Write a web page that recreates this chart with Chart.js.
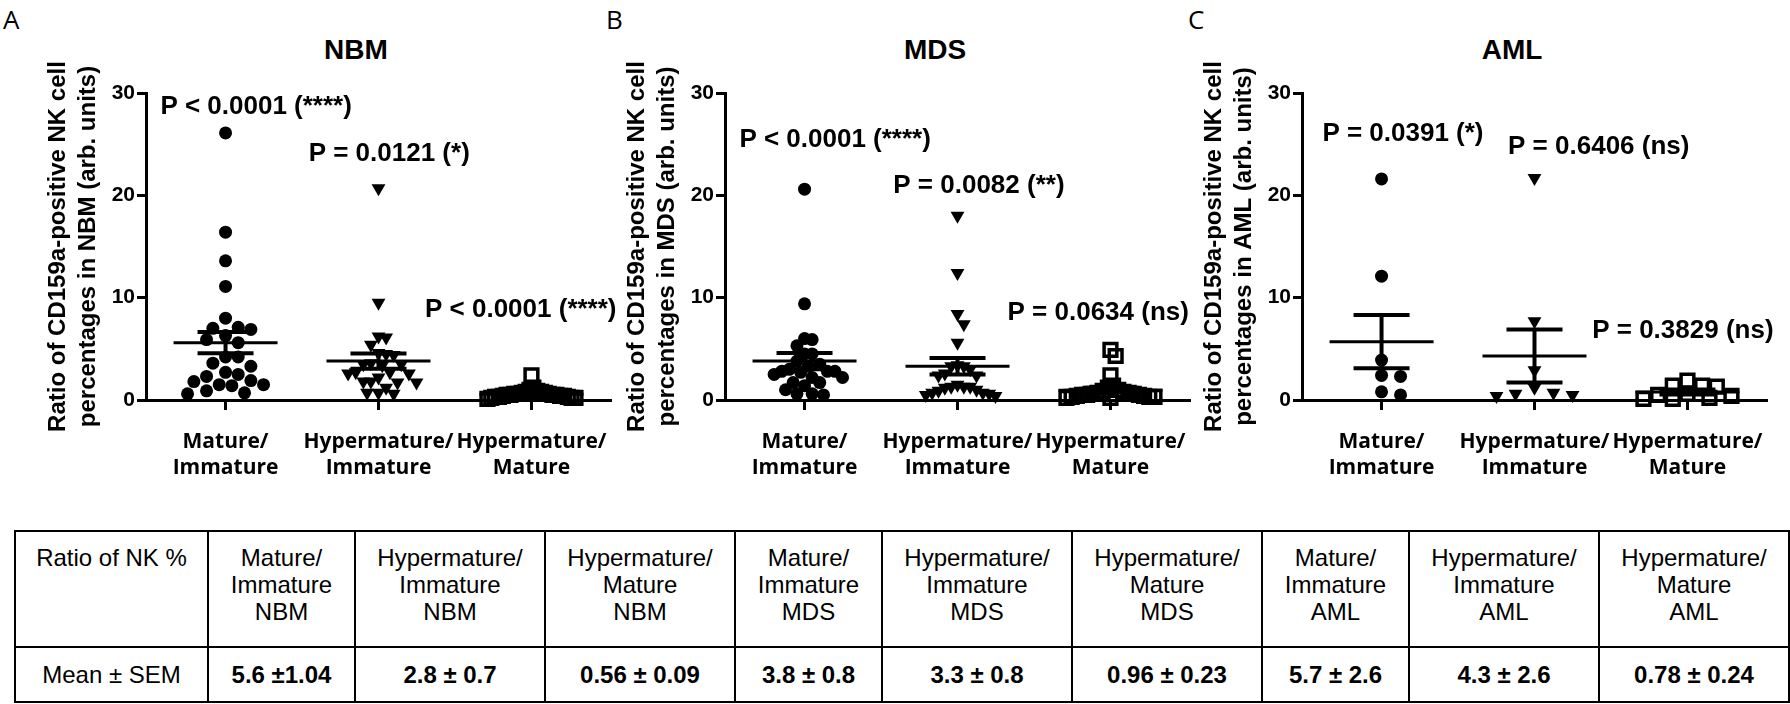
<!DOCTYPE html>
<html>
<head>
<meta charset="utf-8">
<title>CD159a-positive NK cell ratios</title>
<script src="https://cdn.jsdelivr.net/npm/chart.js@4.4.1/dist/chart.umd.min.js"></script>
<style>
  html, body { margin: 0; padding: 0; background: #fff; }
  body { position: relative; width: 1790px; height: 704px; overflow: hidden; }
  canvas { position: absolute; top: 0; }
  .letter { position: absolute; top: 0; font: 400 26px "Open Sans", "Liberation Sans", sans-serif; line-height: 38px; }
  .title { position: absolute; top: 32px; transform: translateX(-50%); font: 700 28px "Liberation Sans", Arial, sans-serif; line-height: 36px; }
  table { position: absolute; left: 14px; top: 530px; width: 1773px; border-collapse: collapse; table-layout: fixed;
          font-family: "Liberation Sans Narrow", "Arial Narrow", "Liberation Sans", sans-serif; font-size: 24px; line-height: 27px; }
  td { border: 2.5px solid #000; text-align: center; padding: 0; }
  tr.head { height: 116px; }
  tr.head td { vertical-align: top; padding-top: 12px; }
  tr.vals { height: 55px; }
  tr.vals td { vertical-align: middle; font-weight: bold; }
  tr.vals td:first-child { font-weight: normal; }
</style>
</head>
<body>
<div class="letter" style="left:3px">A</div>
<div class="letter" style="left:606px">B</div>
<div class="letter" style="left:1188px">C</div>
<div class="title" style="left:356px">NBM</div>
<div class="title" style="left:935px">MDS</div>
<div class="title" style="left:1512px">AML</div>
<canvas id="nbmChart" width="640" height="500" style="left:0px"></canvas>
<canvas id="mdsChart" width="640" height="500" style="left:579px"></canvas>
<canvas id="amlChart" width="640" height="500" style="left:1156px"></canvas>
<table id="summary"></table>
<script>
// categories and ticks
const categoryLabels = [["Mature/", "Immature"], ["Hypermature/", "Immature"], ["Hypermature/", "Mature"]];
const yTicks = [0, 10, 20, 30];

// NBM values
const nbmMatureImmature = [26.1, 16.4, 13.6, 11.1, 8.0, 7.1, 7.0, 6.9, 6.3, 5.9, 5.6, 4.2, 4.2, 3.6, 3.3, 2.7, 2.5, 2.3, 1.9, 1.8, 1.5, 1.5, 1.4, 0.9, 0.7, 0.6];
const nbmHyperImmature = [20.7, 9.5, 6.2, 6.1, 5.4, 4.6, 4.5, 4.4, 3.6, 3.5, 3.5, 3.4, 2.7, 2.7, 2.6, 2.6, 2.2, 1.8, 1.8, 1.7, 1.7, 1.2, 0.7, 0.7, 0.6];
const nbmHyperMature = [2.4, 1.2, 1.0, 0.9, 0.8, 0.8, 0.7, 0.7, 0.6, 0.6, 0.6, 0.5, 0.5, 0.5, 0.5, 0.4, 0.4, 0.4, 0.3, 0.3, 0.3, 0.2, 0.2, 0.2, 0.1];
const nbmMean = [5.6, 3.8, 0.56];
const nbmSem = [1.04, 0.75, 0.09];

// MDS
const mdsMatureImmature = [20.6, 9.4, 6.0, 5.9, 5.3, 4.5, 4.5, 3.8, 3.5, 3.3, 3.0, 2.8, 2.8, 2.8, 2.7, 2.5, 2.2, 2.2, 1.7, 1.7, 1.4, 1.0, 0.6, 0.6, 0.5];
const mdsHyperImmature = [18.0, 12.4, 8.4, 7.4, 5.6, 3.4, 3.3, 3.3, 3.0, 2.6, 2.4, 2.4, 1.5, 1.3, 1.3, 1.3, 1.2, 1.0, 0.9, 0.7, 0.7, 0.6, 0.5, 0.4];
const mdsHyperMature = [4.9, 4.3, 2.4, 1.4, 1.2, 1.0, 0.9, 0.8, 0.7, 0.7, 0.6, 0.6, 0.5, 0.5, 0.5, 0.4, 0.4, 0.3, 0.3, 0.3, 0.2, 0.2];
const mdsMean = [3.8, 3.3, 0.96];
const mdsSem = [0.8, 0.8, 0.23];

// AML
const amlMatureImmature = [21.6, 12.1, 3.9, 2.4, 2.3, 0.8, 0.5];
const amlHyperImmature = [21.7, 7.7, 2.9, 1.2, 0.7, 0.6, 0.5, 0.4];
const amlHyperMature = [1.9, 1.4, 1.4, 1.3, 0.6, 0.5, 0.4, 0.2, 0.1, 0.1];
const amlMean = [5.7, 4.3, 0.78];
const amlSem = [2.6, 2.6, 0.24];

// p-value annotations
const nbmP = ["P < 0.0001 (****)", "P = 0.0121 (*)", "P < 0.0001 (****)"];
const mdsP = ["P < 0.0001 (****)", "P = 0.0082 (**)", "P = 0.0634 (ns)"];
const amlP = ["P = 0.0391 (*)", "P = 0.6406 (ns)", "P = 0.3829 (ns)"];

// table text
const tableHeader = ["Ratio of NK %",
  "Mature/\nImmature\nNBM", "Hypermature/\nImmature\nNBM", "Hypermature/\nMature\nNBM",
  "Mature/\nImmature\nMDS", "Hypermature/\nImmature\nMDS", "Hypermature/\nMature\nMDS",
  "Mature/\nImmature\nAML", "Hypermature/\nImmature\nAML", "Hypermature/\nMature\nAML"];
const tableMeanSem = ["Mean \u00b1 SEM", "5.6 \u00b11.04", "2.8 \u00b1 0.7", "0.56 \u00b1 0.09", "3.8 \u00b1 0.8",
  "3.3 \u00b1 0.8", "0.96 \u00b1 0.23", "5.7 \u00b1 2.6", "4.3 \u00b1 2.6", "0.78 \u00b1 0.24"];

// layout bits (label anchors are [category offset, y value])
const nbmPAt = [[0.2, 28.6], [1.07, 24.1], [1.93, 8.8]];
const mdsPAt = [[0.2, 25.4], [1.14, 20.9], [1.92, 8.5]];
const amlPAt = [[0.14, 26.0], [1.42, 24.7], [1.97, 6.8]];
const colWidths = [193, 147, 190, 190, 147, 190, 190, 147, 190, 190];

const FONT = "'Liberation Sans', Arial, sans-serif";
const markers = [
  { pointStyle: "circle", pointRadius: 6.5, pointBackgroundColor: "#000", pointBorderWidth: 0, pointRotation: 0, gap: 14, step: 9.5, half: 38 },
  { pointStyle: "triangle", pointRadius: 8, pointBackgroundColor: "#000", pointBorderWidth: 0, pointRotation: 180, gap: 14, step: 9.5, half: 38 },
  // open squares are not filled, so overlapping ones merge into a dark band
  { pointStyle: "rect", pointRadius: 9, pointBackgroundColor: "rgba(0,0,0,0)", pointBorderWidth: 3.5, pointRotation: 0, gap: 13, step: 9, half: 44 },
];

const meanSemPlugin = {
  id: "meanSem",
  afterDatasetsDraw(chart, args, opts) {
    const { ctx, scales: { x, y } } = chart;
    const seg = (x1, y1, x2, y2) => { ctx.beginPath(); ctx.moveTo(x1, y1); ctx.lineTo(x2, y2); ctx.stroke(); };
    ctx.save();
    ctx.strokeStyle = "#000";
    opts.means.forEach((m, g) => {
      const cx = x.getPixelForValue(g);
      const s = opts.sems[g];
      const ym = y.getPixelForValue(m), yh = y.getPixelForValue(m + s), yl = y.getPixelForValue(m - s);
      ctx.lineWidth = 3;
      seg(cx - 52, ym, cx + 52, ym);
      ctx.lineWidth = 4;
      seg(cx, yh, cx, yl);
      seg(cx - 28, yh, cx + 28, yh);
      seg(cx - 28, yl, cx + 28, yl);
    });
    ctx.restore();
  },
};

const pLabelPlugin = {
  id: "pLabels",
  afterDraw(chart, args, opts) {
    const { ctx, scales: { x, y } } = chart;
    ctx.save();
    ctx.fillStyle = "#000";
    ctx.font = "bold 26px " + FONT;
    ctx.textAlign = "center";
    ctx.textBaseline = "middle";
    opts.texts.forEach((t, i) => {
      ctx.fillText(t, x.getPixelForValue(opts.at[i][0]), y.getPixelForValue(opts.at[i][1]));
    });
    ctx.restore();
  },
};

// spread the dots sideways like a scatter dot plot, then squeeze to the group width
function arrange(chart, groups) {
  const xs = chart.scales.x, ys = chart.scales.y;
  groups.forEach((vals, g) => {
    const m = markers[g];
    const cx = xs.getPixelForValue(g);
    const order = vals.map((v, i) => ({ i, py: ys.getPixelForValue(v) })).sort((a, b) => a.py - b.py);
    const placed = [];
    const off = new Array(vals.length).fill(0);
    order.forEach((p) => {
      for (let k = 0; k < 120; k++) {
        const dx = (k % 2 ? 1 : -1) * Math.ceil(k / 2) * m.step;
        if (placed.every((q) => Math.hypot(q.dx - dx, q.py - p.py) >= m.gap)) {
          placed.push({ dx, py: p.py });
          off[p.i] = dx;
          break;
        }
      }
    });
    const widest = Math.max(...off.map(Math.abs));
    const k = widest > m.half ? m.half / widest : 1;
    chart.data.datasets[g].data = vals.map((v, i) => ({ x: xs.getValueForPixel(cx + off[i] * k), y: v }));
  });
  chart.update("none");
}

function makePanel(id, name, groups, means, sems, pTexts, pAt) {
  const chart = new Chart(document.getElementById(id), {
    type: "scatter",
    data: {
      datasets: groups.map((vals, g) => ({
        data: vals.map((v) => ({ x: g, y: v })),
        pointStyle: markers[g].pointStyle,
        pointRadius: markers[g].pointRadius,
        pointHoverRadius: markers[g].pointRadius,
        pointBackgroundColor: markers[g].pointBackgroundColor,
        pointBorderColor: "#000",
        pointBorderWidth: markers[g].pointBorderWidth,
        pointRotation: markers[g].pointRotation,
        clip: false,
      })),
    },
    options: {
      responsive: false,
      animation: false,
      layout: { padding: { top: 93, right: 29, left: 0, bottom: 0 } },
      scales: {
        x: {
          type: "linear",
          min: -0.52,
          max: 2.52,
          afterBuildTicks: (s) => { s.ticks = [0, 1, 2].map((v) => ({ value: v })); },
          afterFit: (s) => { s.height = 100; },
          border: { color: "#000", width: 3 },
          grid: { drawOnChartArea: false, tickLength: 10, tickWidth: 3, tickColor: "#000" },
          ticks: {
            color: "#000",
            padding: 19,
            autoSkip: false,
            maxRotation: 0,
            font: { family: "'Open Sans', sans-serif", weight: "bold", size: 21, lineHeight: 1.24 },
            callback: (v) => categoryLabels[v],
          },
        },
        y: {
          min: 0,
          max: 30,
          afterBuildTicks: (s) => { s.ticks = yTicks.map((v) => ({ value: v })); },
          afterFit: (s) => { s.width = 146; },
          border: { color: "#000", width: 3 },
          grid: { drawOnChartArea: false, tickLength: 9, tickWidth: 3, tickColor: "#000" },
          ticks: { color: "#000", padding: 2, font: { family: FONT, weight: "bold", size: 21 } },
          title: {
            display: true,
            text: ["Ratio of CD159a-positive NK cell", "percentages in " + name + " (arb. units)"],
            color: "#000",
            font: { family: FONT, weight: "bold", size: 24, lineHeight: 1.25 },
            padding: { top: 43, bottom: 0 },
          },
        },
      },
      plugins: {
        legend: { display: false },
        tooltip: { enabled: false },
        meanSem: { means: means, sems: sems },
        pLabels: { texts: pTexts, at: pAt },
      },
    },
    plugins: [meanSemPlugin, pLabelPlugin],
  });
  arrange(chart, groups);
  return chart;
}

makePanel("nbmChart", "NBM", [nbmMatureImmature, nbmHyperImmature, nbmHyperMature], nbmMean, nbmSem, nbmP, nbmPAt);
makePanel("mdsChart", "MDS", [mdsMatureImmature, mdsHyperImmature, mdsHyperMature], mdsMean, mdsSem, mdsP, mdsPAt);
makePanel("amlChart", "AML", [amlMatureImmature, amlHyperImmature, amlHyperMature], amlMean, amlSem, amlP, amlPAt);

// summary table under the plots
const table = document.getElementById("summary");
const cg = document.createElement("colgroup");
colWidths.forEach((w) => { const c = document.createElement("col"); c.style.width = w + "px"; cg.appendChild(c); });
table.appendChild(cg);
[[tableHeader, "head"], [tableMeanSem, "vals"]].forEach(([cells, cls]) => {
  const tr = document.createElement("tr");
  tr.className = cls;
  cells.forEach((txt) => {
    const td = document.createElement("td");
    txt.split("\n").forEach((line, i) => {
      if (i) td.appendChild(document.createElement("br"));
      td.appendChild(document.createTextNode(line));
    });
    tr.appendChild(td);
  });
  table.appendChild(tr);
});
</script>
</body>
</html>
